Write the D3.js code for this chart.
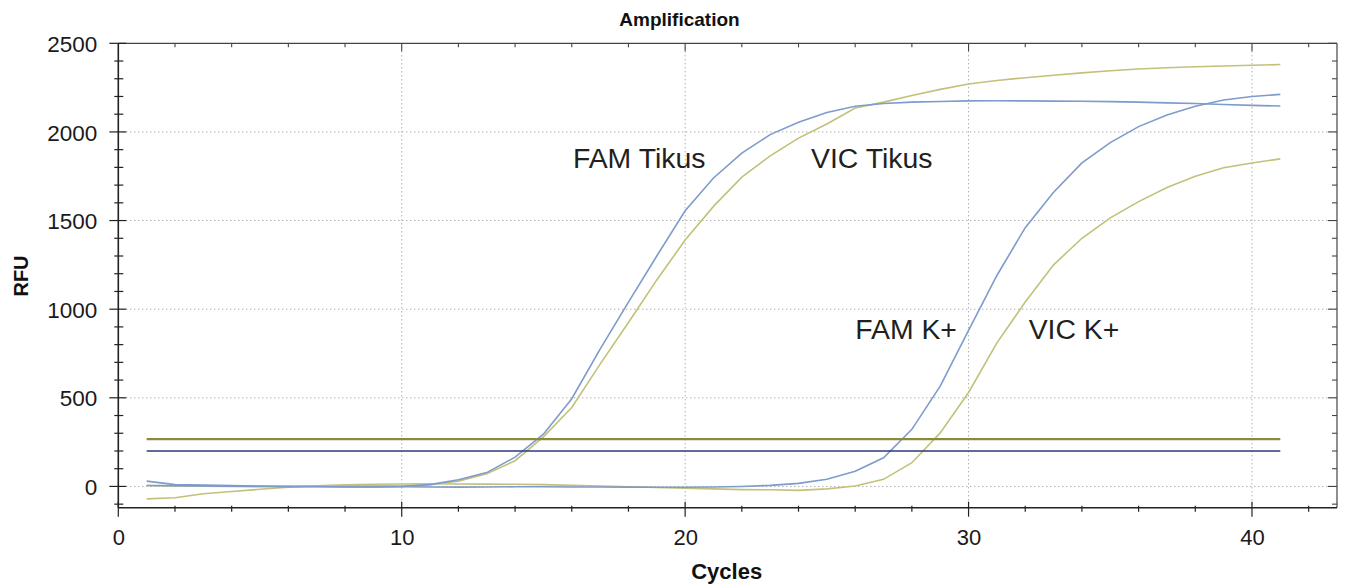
<!DOCTYPE html>
<html><head><meta charset="utf-8">
<script src="https://cdn.jsdelivr.net/npm/d3@7/dist/d3.min.js"></script>
<style>
html,body{margin:0;padding:0;background:#fff;}
svg{display:block;font-family:"Liberation Sans",Arial,sans-serif;}
</style></head>
<body>
<svg id="chart" width="1348" height="587"></svg>
<script>
const cycles = [1,2,3,4,5,6,7,8,9,10,11,12,13,14,15,16,17,18,19,20,21,22,23,24,25,26,27,28,29,30,31,32,33,34,35,36,37,38,39,40,41];
const famTikus = [30,10,8,5,2,0,0,-2,-3,0,10,38,78,165,295,495,775,1040,1300,1555,1740,1880,1985,2055,2110,2145,2160,2168,2172,2175,2176,2175,2174,2173,2171,2168,2164,2160,2155,2150,2146];
const vicTikus = [5,3,2,0,0,1,2,3,3,4,10,30,72,145,280,445,690,925,1165,1390,1580,1745,1865,1965,2045,2135,2168,2205,2240,2270,2290,2306,2320,2333,2345,2355,2362,2368,2372,2376,2380];
const famKplus = [5,4,3,2,0,-1,-2,-3,-3,-2,-3,-4,-3,-2,-2,-3,-3,-4,-5,-5,-3,0,6,17,40,86,162,322,566,880,1190,1460,1660,1825,1940,2030,2095,2145,2180,2200,2212];
const vicKplus = [-70,-64,-41,-29,-16,-4,4,9,12,14,15,14,13,12,10,6,2,-2,-6,-10,-14,-18,-19,-22,-14,2,40,134,302,530,810,1040,1250,1400,1515,1607,1686,1750,1798,1825,1848];
const thresholds = [{name:"VIC", value:267}, {name:"FAM", value:200}];
const xTickValues = [0,10,20,30,40];
const yTickValues = [0,500,1000,1500,2000,2500];
const labels = [
  {text:"FAM Tikus", cycle:16.04, rfu:1798},
  {text:"VIC Tikus", cycle:24.44, rfu:1798},
  {text:"FAM K+", cycle:26.0, rfu:830},
  {text:"VIC K+", cycle:32.12, rfu:830}
];
const title = "Amplification", xTitle = "Cycles", yTitle = "RFU";

const FAMC = "#7d9bcc", VICC = "#c2c17a";
const series = [
  {values:vicTikus, color:VICC},
  {values:vicKplus, color:VICC},
  {values:famKplus, color:FAMC},
  {values:famTikus, color:FAMC}
];
const thrColor = {VIC:"#8a8a3c", FAM:"#2d3a78"};
const thrWidth = {VIC:2.4, FAM:1.6};

const svg = d3.select("#chart");
const L = 118.3, R = 1337, T = 43.3, B = 507.7;
const x = d3.scaleLinear().domain([0,43]).range([L,R]);
const y = d3.scaleLinear().domain([-120,2500]).range([B,T]);

// grid
const g = svg.append("g");
g.selectAll(".vg").data(xTickValues.filter(d=>d>0)).enter().append("line")
  .attr("x1",d=>x(d)).attr("x2",d=>x(d)).attr("y1",T).attr("y2",B)
  .attr("stroke","#8a8a8a").attr("stroke-width",1).attr("stroke-dasharray","1,3");
g.selectAll(".hg").data(yTickValues.filter(d=>d<2500)).enter().append("line")
  .attr("x1",L).attr("x2",R).attr("y1",d=>y(d)).attr("y2",d=>y(d))
  .attr("stroke","#8a8a8a").attr("stroke-width",1).attr("stroke-dasharray","1,3");

// curves
const line = d3.line().x((d,i)=>x(cycles[i])).y(d=>y(d));
series.forEach(s=>{
  svg.append("path").datum(s.values).attr("d",line)
    .attr("fill","none").attr("stroke",s.color).attr("stroke-width",1.6);
});

// thresholds
svg.selectAll(".thr").data(thresholds).enter().append("line")
  .attr("x1",x(cycles[0])).attr("x2",x(cycles[cycles.length-1]))
  .attr("y1",d=>y(d.value)).attr("y2",d=>y(d.value))
  .attr("stroke",d=>thrColor[d.name]).attr("stroke-width",d=>thrWidth[d.name]);

// frame
svg.append("line").attr("x1",L).attr("x2",R).attr("y1",T).attr("y2",T).attr("stroke","#444").attr("stroke-width",1.2);
svg.append("line").attr("x1",R).attr("x2",R).attr("y1",T).attr("y2",B).attr("stroke","#444").attr("stroke-width",1.2);
svg.append("line").attr("x1",L).attr("x2",L).attr("y1",T).attr("y2",B).attr("stroke","#222").attr("stroke-width",1.6);
svg.append("line").attr("x1",L).attr("x2",R).attr("y1",B).attr("y2",B).attr("stroke","#222").attr("stroke-width",1.6);

// y ticks (minor every 100, major every 500)
const yMinor = y.ticks(26).filter(d=>d>=-100);
svg.selectAll(".yt").data(yMinor).enter().append("line")
  .attr("x1",d=> d%500===0 ? L-9 : L-4).attr("x2",d=> d%500===0 ? L+8 : L+5)
  .attr("y1",d=>y(d)).attr("y2",d=>y(d)).attr("stroke","#222").attr("stroke-width",1.2);
svg.selectAll(".yr").data(yMinor).enter().append("line")
  .attr("x1",d=> d%500===0 ? R-9 : R-5).attr("x2",R)
  .attr("y1",d=>y(d)).attr("y2",d=>y(d)).attr("stroke","#444").attr("stroke-width",1.1);
// x ticks (minor every 2, major every 10)
const xMinor = x.ticks(21).filter(d=>d>0 && d%2===0 && d<43);
const xAll = [0].concat(xMinor);
svg.selectAll(".xt").data(xAll).enter().append("line")
  .attr("x1",d=>x(d)).attr("x2",d=>x(d))
  .attr("y1",d=> d%10===0 ? B-6 : B-2).attr("y2",d=> d%10===0 ? B+9 : B+4)
  .attr("stroke","#222").attr("stroke-width",1.2);
svg.selectAll(".xtt").data(xMinor).enter().append("line")
  .attr("x1",d=>x(d)).attr("x2",d=>x(d))
  .attr("y1",T).attr("y2",d=> d%10===0 ? T+8 : T+4)
  .attr("stroke","#444").attr("stroke-width",1.1);

// axes labels via d3 axes
const yAxis = d3.axisLeft(y).tickValues(yTickValues).tickFormat(d3.format("d")).tickSize(0).tickPadding(21);
const ya = svg.append("g").attr("transform",`translate(${L},0)`).call(yAxis);
ya.select(".domain").remove();
ya.selectAll("text").attr("font-size","22.5px").attr("fill","#1a1a1a").attr("font-family","Liberation Sans, Arial, sans-serif").attr("dy","0.36em");
const xAxis = d3.axisBottom(x).tickValues(xTickValues).tickFormat(d3.format("d")).tickSize(0).tickPadding(22);
const xa = svg.append("g").attr("transform",`translate(0,${B})`).call(xAxis);
xa.select(".domain").remove();
xa.selectAll("text").attr("font-size","22px").attr("fill","#1a1a1a").attr("font-family","Liberation Sans, Arial, sans-serif");

// titles
svg.append("text").attr("x",679.5).attr("y",26).attr("text-anchor","middle")
  .attr("font-size","19px").attr("font-weight","bold").attr("fill","#111").text(title);
svg.append("text").attr("x",(L+R)/2 - 1).attr("y",579).attr("text-anchor","middle")
  .attr("font-size","22px").attr("font-weight","bold").attr("fill","#111").text(xTitle);
svg.append("text").attr("transform","translate(28,276) rotate(-90)").attr("text-anchor","middle")
  .attr("font-size","20px").attr("font-weight","bold").attr("fill","#111").text(yTitle);

// annotations
svg.selectAll(".lab").data(labels).enter().append("text")
  .attr("x",d=>x(d.cycle)).attr("y",d=>y(d.rfu))
  .attr("font-size","28.4px").attr("fill","#231f20").text(d=>d.text);
</script>
</body></html>
